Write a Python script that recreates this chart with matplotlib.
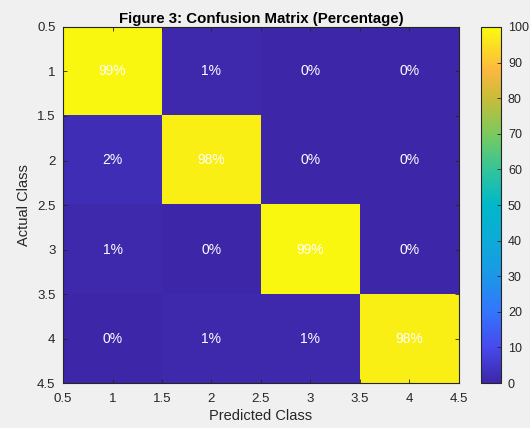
import numpy as np
import matplotlib
matplotlib.use("Agg")
import matplotlib.pyplot as plt
from matplotlib.colors import LinearSegmentedColormap

# Confusion matrix in percent (rows: actual class, columns: predicted class)
classes = [1, 2, 3, 4]
row_1 = [99, 1, 0, 0]
row_2 = [2, 98, 0, 0]
row_3 = [1, 0, 99, 0]
row_4 = [0, 1, 1, 98]
conf_pct = np.array([row_1, row_2, row_3, row_4], dtype=float)

axis_ticks = [0.5, 1, 1.5, 2, 2.5, 3, 3.5, 4, 4.5]
axis_tick_labels = ["0.5", "1", "1.5", "2", "2.5", "3", "3.5", "4", "4.5"]
cbar_ticks = [0, 10, 20, 30, 40, 50, 60, 70, 80, 90, 100]

# Parula-like colormap
parula_pts = [
    (0.00, (0.2422, 0.1504, 0.6603)),
    (0.10, (0.2780, 0.2900, 0.9300)),
    (0.20, (0.2000, 0.4600, 0.9900)),
    (0.30, (0.1100, 0.5900, 0.9100)),
    (0.40, (0.0500, 0.6700, 0.8500)),
    (0.50, (0.0000, 0.7200, 0.7900)),
    (0.60, (0.2000, 0.7700, 0.6000)),
    (0.70, (0.4800, 0.7900, 0.3700)),
    (0.80, (0.7800, 0.7400, 0.2200)),
    (0.88, (0.9900, 0.7200, 0.2500)),
    (1.00, (0.9763, 0.9831, 0.0538)),
]
parula = LinearSegmentedColormap.from_list("parula", parula_pts, N=256)

plt.rcParams["font.family"] = ["Liberation Sans", "DejaVu Sans"]
text_col = "#262626"
bg = "#F0F0F0"

fig = plt.figure(figsize=(5.30, 4.28), dpi=100, facecolor=bg)
ax = fig.add_axes([0.1189, 0.105, 0.747, 0.832])
cax = fig.add_axes([0.9075, 0.105, 0.0377, 0.832])

im = ax.imshow(conf_pct, cmap=parula, vmin=0, vmax=100, aspect="auto",
               extent=(0.5, 4.5, 4.5, 0.5), interpolation="nearest")

for i in range(len(classes)):
    for j in range(len(classes)):
        ax.text(classes[j], classes[i], f"{conf_pct[i, j]:.0f}%",
                ha="center", va="center", color="white", fontsize=10)

ax.set_xticks(axis_ticks)
ax.set_xticklabels(axis_tick_labels)
ax.set_yticks(axis_ticks)
ax.set_yticklabels(axis_tick_labels)
ax.tick_params(direction="in", top=True, right=True, length=3,
               labelsize=9.5, colors=text_col, width=0.6)
ax.tick_params(axis="x", pad=7)
ax.tick_params(axis="y", pad=5.5)
for sp in ax.spines.values():
    sp.set_color("#262626")
    sp.set_linewidth(0.8)

ax.set_xlabel("Predicted Class", fontsize=10.5, color=text_col, labelpad=3)
ax.set_ylabel("Actual Class", fontsize=10.5, color=text_col, labelpad=4)
ax.set_title("Figure 3: Confusion Matrix (Percentage)", fontsize=10.8,
             fontweight="bold", color="black", pad=3)

cb = fig.colorbar(im, cax=cax, ticks=cbar_ticks)
cb.outline.set_edgecolor("#262626")
cb.outline.set_linewidth(0.8)
cax.tick_params(direction="in", length=3, labelsize=9, colors=text_col,
                width=0.6, pad=5)

fig.savefig("out.png", dpi=100, facecolor=bg)
